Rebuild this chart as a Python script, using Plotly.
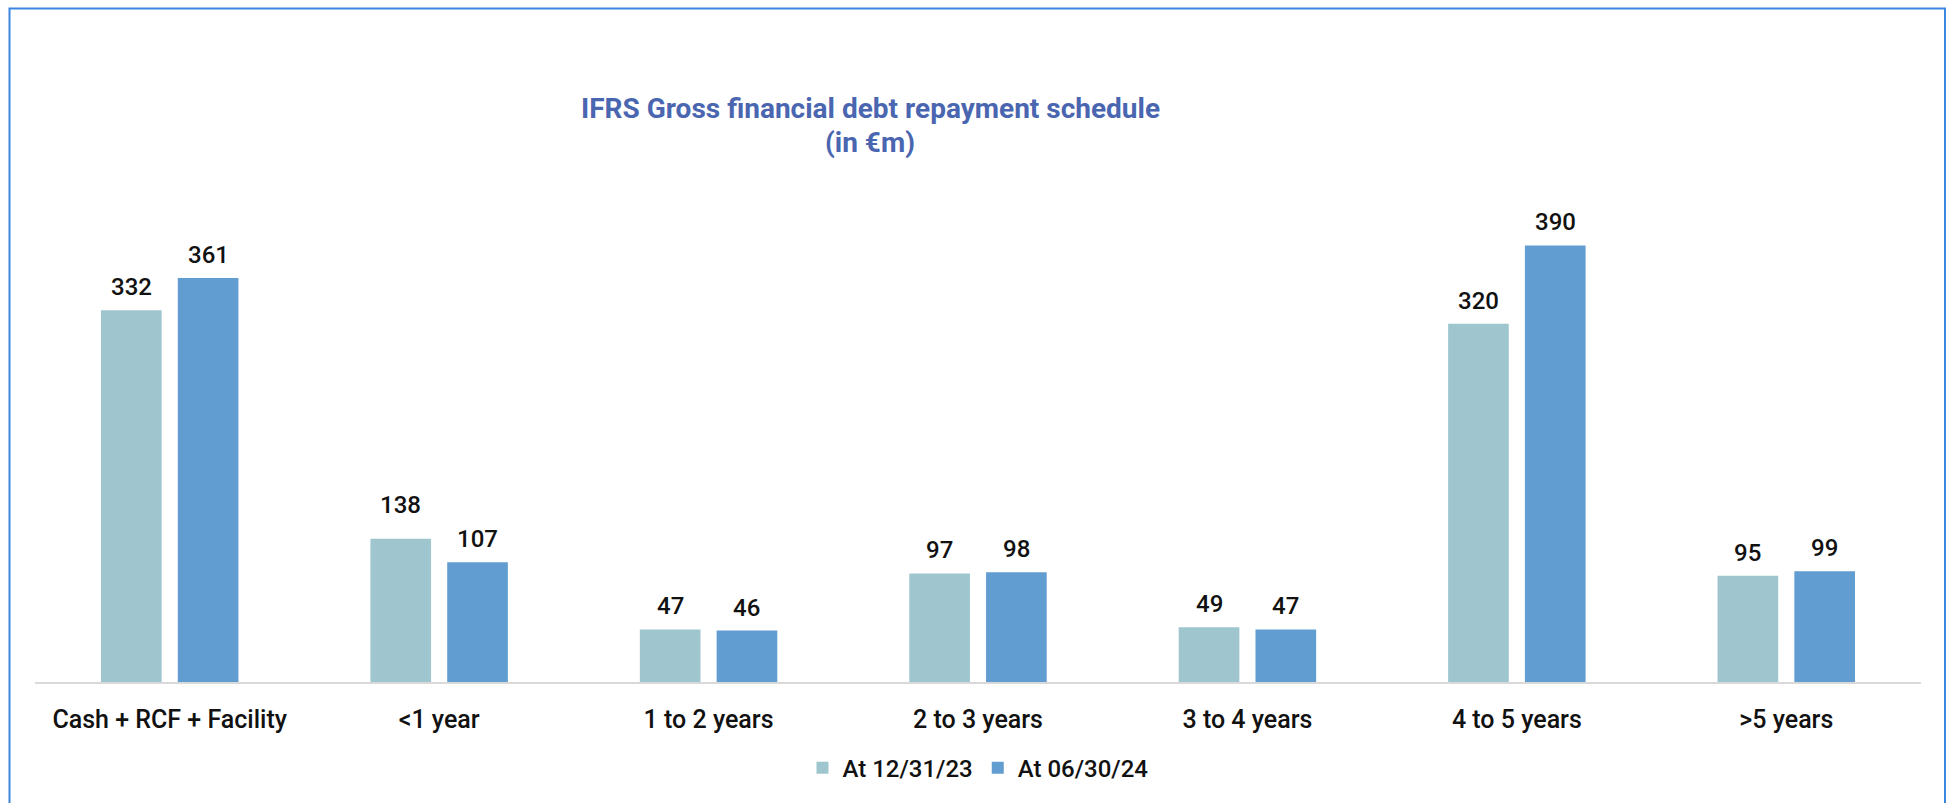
import plotly.graph_objects as go

categories = ["Cash + RCF + Facility", "<1 year", "1 to 2 years", "2 to 3 years",
              "3 to 4 years", "4 to 5 years", ">5 years"]
series_names = ["At 12/31/23", "At 06/30/24"]
# bar heights as drawn in the picture (the "<1 year" 12/31/23 bar is drawn at ~128 but labelled 138)
values_2023 = [332, 128, 47, 97, 49, 320, 95]
values_2024 = [361, 107, 46, 98, 47, 390, 99]
labels_2023 = [332, 138, 47, 97, 49, 320, 95]
labels_2024 = [361, 107, 46, 98, 47, 390, 99]
title_line1 = "IFRS Gross financial debt repayment schedule"
title_line2 = "(in €m)"

colors = ["#9fc6ce", "#629dd1"]
FONT = "Roboto"

W, H = 1950, 803
PLOT_L, PLOT_R, PLOT_T, PLOT_B = 35, 1921, 130, 687  # page pixel coords
ML, MR = PLOT_L, W - PLOT_R
MT, MB = PLOT_T, H - PLOT_B
PW = W - ML - MR
PH = H - MT - MB
YMAX = (PLOT_B - PLOT_T) / 1.1295

def px_to_paper_x(px):
    return (px - PLOT_L) / PW

def px_to_paper_y(py):
    return (PLOT_B - py) / PH

fig = go.Figure()
for name, vals, col in zip(series_names, [values_2023, values_2024], colors):
    fig.add_trace(go.Bar(x=categories, y=vals, name=name, marker_color=col,
                         marker_line_width=0, hoverinfo="skip"))

# data labels
offset = (PW / len(categories)) * (1 - 0.43) / 4
for shift, labs in zip([-offset, offset], [labels_2023, labels_2024]):
    for c, v in zip(categories, labs):
        fig.add_annotation(x=c, y=v, xref="x", yref="y", text=str(v), showarrow=False,
                           xshift=shift, yshift=7, yanchor="bottom",
                           font=dict(family=FONT, size=24, weight=500, color="#111111"))

# title
for txt, ypx in [(title_line1, 108), (title_line2, 143)]:
    fig.add_annotation(x=px_to_paper_x(870), y=px_to_paper_y(ypx), xref="paper", yref="paper",
                       text="<b>" + txt + "</b>", showarrow=False, yanchor="middle",
                       font=dict(family=FONT, size=28, color="#4a66b0"))

# outer border
fig.add_shape(type="rect", xref="paper", yref="paper",
              x0=px_to_paper_x(9.5), x1=px_to_paper_x(1945),
              y0=px_to_paper_y(830), y1=px_to_paper_y(7.5),
              line=dict(color="#3d86e0", width=2), fillcolor="rgba(0,0,0,0)", layer="above")

fig.update_layout(
    width=W, height=H,
    margin=dict(l=ML, r=MR, t=MT, b=MB, pad=0),
    paper_bgcolor="white", plot_bgcolor="white",
    barmode="group", bargap=0.43, bargroupgap=0.21,
    showlegend=True,
    legend=dict(orientation="h", x=0.5, xanchor="center", y=px_to_paper_y(774), yanchor="middle",
                font=dict(family=FONT, size=24, weight=500, color="#111111"), itemclick=False,
                traceorder="normal"),
    font=dict(family=FONT),
)
fig.update_xaxes(showline=True, linecolor="#d9d9d9", linewidth=2, ticks="", showgrid=False,
                 tickfont=dict(family=FONT, size=25, weight=500, color="#111111"),
                 ticklabelstandoff=14, fixedrange=True)
fig.update_yaxes(range=[0, YMAX], visible=False, showgrid=False, zeroline=False, fixedrange=True)

fig.write_html("out.html", config={"displayModeBar": False},
               post_script="document.body.style.margin='0';document.body.style.overflow='hidden';")
